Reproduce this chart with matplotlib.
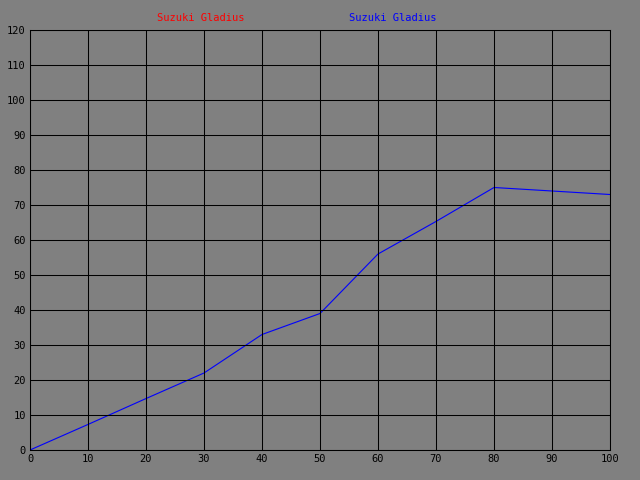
import matplotlib
matplotlib.use("Agg")
import matplotlib.pyplot as plt

x_vals = [0, 10, 20, 30, 40, 50, 60, 70, 80, 90, 100]
y_vals = [0, 7.3, 14.7, 22, 33, 39, 56, 65.3, 75, 74, 73]
series_names = ["Suzuki Gladius", "Suzuki Gladius"]
series_colors = ["#ff0000", "#0000ff"]
x_ticks = list(range(0, 101, 10))
y_ticks = list(range(0, 121, 10))

bg = "#808080"
fig = plt.figure(figsize=(6.4, 4.8), dpi=100, facecolor=bg)
ax = fig.add_axes([30/640, 30/480, 580/640, 420/480], facecolor=bg)

ax.plot(x_vals, y_vals, color=series_colors[1], linewidth=0.8)
ax.set_xlim(0, 100)
ax.set_ylim(0, 120)
ax.set_xticks(x_ticks)
ax.set_yticks(y_ticks)
font = dict(family="DejaVu Sans Mono", size=7.5)
ax.set_xticklabels([str(v) for v in x_ticks], **font)
ax.set_yticklabels([str(v) for v in y_ticks], **font)
ax.tick_params(length=0, pad=3, colors="black")
ax.grid(True, color="black", linewidth=0.75)
ax.set_axisbelow(False)
for s in ax.spines.values():
    s.set_color("black")
    s.set_linewidth(0.75)

fig.text(201/640, 1 - 18/480, series_names[0], color=series_colors[0], ha="center", va="center", **font)
fig.text(393/640, 1 - 18/480, series_names[1], color=series_colors[1], ha="center", va="center", **font)

fig.savefig("out.png", dpi=100, facecolor=bg)
